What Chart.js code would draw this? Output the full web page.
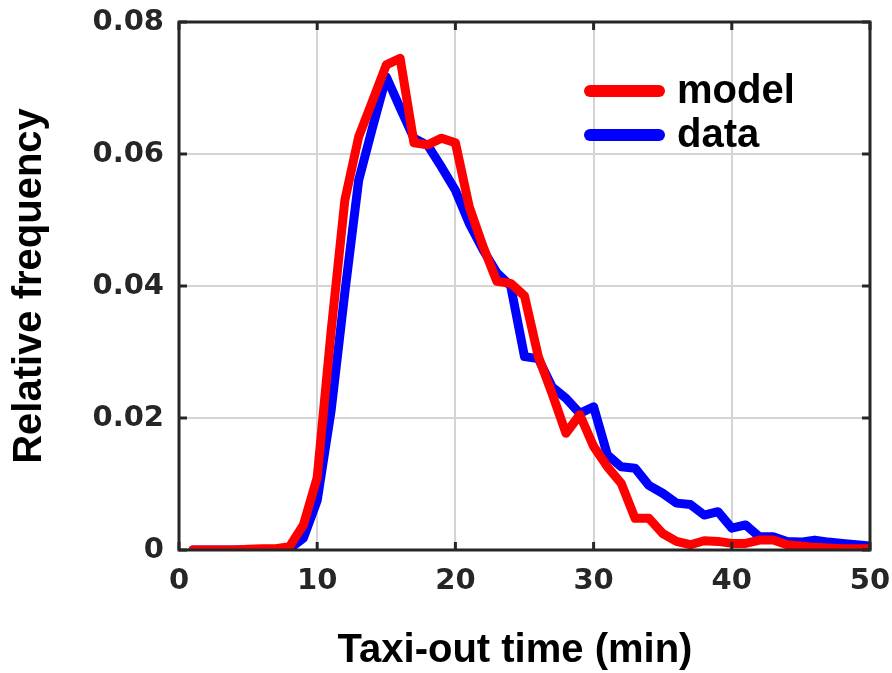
<!DOCTYPE html>
<html>
<head>
<meta charset="utf-8">
<script src="https://cdn.jsdelivr.net/npm/chart.js@4.4.1/dist/chart.umd.min.js"></script>
<style>
  html, body { margin: 0; padding: 0; background: #fff; }
  #wrap { width: 892px; height: 673px; }
</style>
</head>
<body>
<div id="wrap"><canvas id="taxiChart" width="892" height="673"></canvas></div>
<script>
// taxi-out time, minutes
const minutes = [1,2,3,4,5,6,7,8,9,10,11,12,13,14,15,16,17,18,19,20,21,22,23,24,25,
                 26,27,28,29,30,31,32,33,34,35,36,37,38,39,40,41,42,43,44,45,46,47,48,49,50];

const modelFreq = [0,0,0,0,0.0001,0.0002,0.0002,0.0005,0.0038,0.011,
                   0.033,0.053,0.0626,0.068,0.0735,0.0745,0.0617,0.0614,0.0624,0.0617,
                   0.052,0.046,0.0407,0.0404,0.0385,0.0293,0.0237,0.0177,0.0205,0.0157,
                   0.0126,0.0101,0.0048,0.0048,0.0025,0.0013,0.0008,0.0014,0.0013,0.001,
                   0.001,0.0015,0.0015,0.0008,0.0006,0.0004,0.0003,0.0002,0.0002,0.0002];

const dataFreq = [0,0,0,0,0,0,0,0.0002,0.0018,0.0075,
                  0.021,0.039,0.056,0.064,0.0717,0.067,0.0624,0.0613,0.058,0.0545,
                  0.0495,0.0455,0.042,0.040,0.0293,0.029,0.0247,0.023,0.0207,0.0217,
                  0.0144,0.0126,0.0124,0.0098,0.0086,0.0071,0.0069,0.0053,0.0058,0.0033,
                  0.0038,0.002,0.002,0.0013,0.0012,0.0015,0.0012,0.001,0.0008,0.0006];

const seriesNames = ['model', 'data'];
const seriesColors = ['#ff0000', '#0000ff'];

const xTicks = [0, 10, 20, 30, 40, 50];
const yTicks = [0, 0.02, 0.04, 0.06, 0.08];

const xTitle = 'Taxi-out time (min)';
const frameColor = '#262626';

// box around the plot, inward tick marks, x title and the legend
const framePlugin = {
  id: 'frame',
  afterDraw(chart) {
    const { ctx, chartArea: a, scales: { x, y } } = chart;
    ctx.save();
    ctx.strokeStyle = frameColor;
    ctx.lineWidth = 3;
    ctx.strokeRect(a.left, a.top, a.right - a.left, a.bottom - a.top);

    const len = 8;
    xTicks.forEach(v => {
      const px = x.getPixelForValue(v);
      ctx.beginPath();
      ctx.moveTo(px, a.bottom); ctx.lineTo(px, a.bottom - len);
      ctx.moveTo(px, a.top); ctx.lineTo(px, a.top + len);
      ctx.stroke();
    });
    yTicks.forEach(v => {
      const py = y.getPixelForValue(v);
      ctx.beginPath();
      ctx.moveTo(a.left, py); ctx.lineTo(a.left + len, py);
      ctx.moveTo(a.right, py); ctx.lineTo(a.right - len, py);
      ctx.stroke();
    });

    ctx.font = 'bold 40px "Liberation Sans", Arial, sans-serif';
    ctx.fillStyle = '#000';
    ctx.textAlign = 'center';
    ctx.textBaseline = 'middle';
    ctx.fillText(xTitle, 515, 651);

    // legend
    const rows = [103, 147];
    ctx.textBaseline = 'alphabetic';
    ctx.textAlign = 'left';
    seriesNames.forEach((name, i) => {
      const base = rows[i];
      ctx.strokeStyle = seriesColors[i];
      ctx.lineWidth = 12;
      ctx.lineCap = 'round';
      ctx.beginPath();
      ctx.moveTo(590, base - 12);
      ctx.lineTo(659, base - 12);
      ctx.stroke();
      ctx.fillStyle = '#000';
      ctx.fillText(name, 677, base);
    });
    ctx.restore();
  }
};

const tickFont = { family: '"DejaVu Sans", sans-serif', size: 29, weight: 'bold' };
const titleFont = { family: '"Liberation Sans", Arial, sans-serif', size: 40, weight: 'bold' };

new Chart(document.getElementById('taxiChart'), {
  type: 'line',
  data: {
    labels: minutes,
    datasets: [
      {
        label: seriesNames[0],
        data: minutes.map((m, i) => ({ x: m, y: modelFreq[i] })),
        borderColor: seriesColors[0],
        borderWidth: 9,
        pointRadius: 0,
        tension: 0,
        borderJoinStyle: 'round',
        borderCapStyle: 'round'
      },
      {
        label: seriesNames[1],
        data: minutes.map((m, i) => ({ x: m, y: dataFreq[i] })),
        borderColor: seriesColors[1],
        borderWidth: 9,
        pointRadius: 0,
        tension: 0,
        borderJoinStyle: 'round',
        borderCapStyle: 'round'
      }
    ]
  },
  options: {
    responsive: false,
    devicePixelRatio: 1,
    animation: false,
    layout: { padding: { left: 0, right: 22, top: 22, bottom: 0 } },
    plugins: {
      legend: { display: false },
      tooltip: { enabled: false }
    },
    scales: {
      x: {
        type: 'linear',
        min: 0,
        max: 50,
        afterBuildTicks: s => { s.ticks = xTicks.map(v => ({ value: v })); },
        afterFit: s => { s.height = 123; s.paddingLeft = 0; s.paddingRight = 0; },
        ticks: { font: tickFont, color: frameColor, padding: 14, maxRotation: 0 },
        grid: { color: '#d4d4d4', lineWidth: 2, drawTicks: false },
        border: { display: false }
      },
      y: {
        min: 0,
        max: 0.08,
        afterBuildTicks: s => { s.ticks = yTicks.map(v => ({ value: v })); },
        afterFit: s => { s.width = 179; s.paddingTop = 0; s.paddingBottom = 0; },
        ticks: { font: tickFont, color: frameColor, padding: 15 },
        grid: { color: '#d4d4d4', lineWidth: 2, drawTicks: false },
        border: { display: false },
        title: {
          display: true,
          text: 'Relative frequency',
          font: { ...titleFont, lineHeight: 1.5 },
          color: '#000',
          padding: { top: 0, bottom: 0 }
        }
      }
    }
  },
  plugins: [framePlugin]
});
</script>
</body>
</html>
